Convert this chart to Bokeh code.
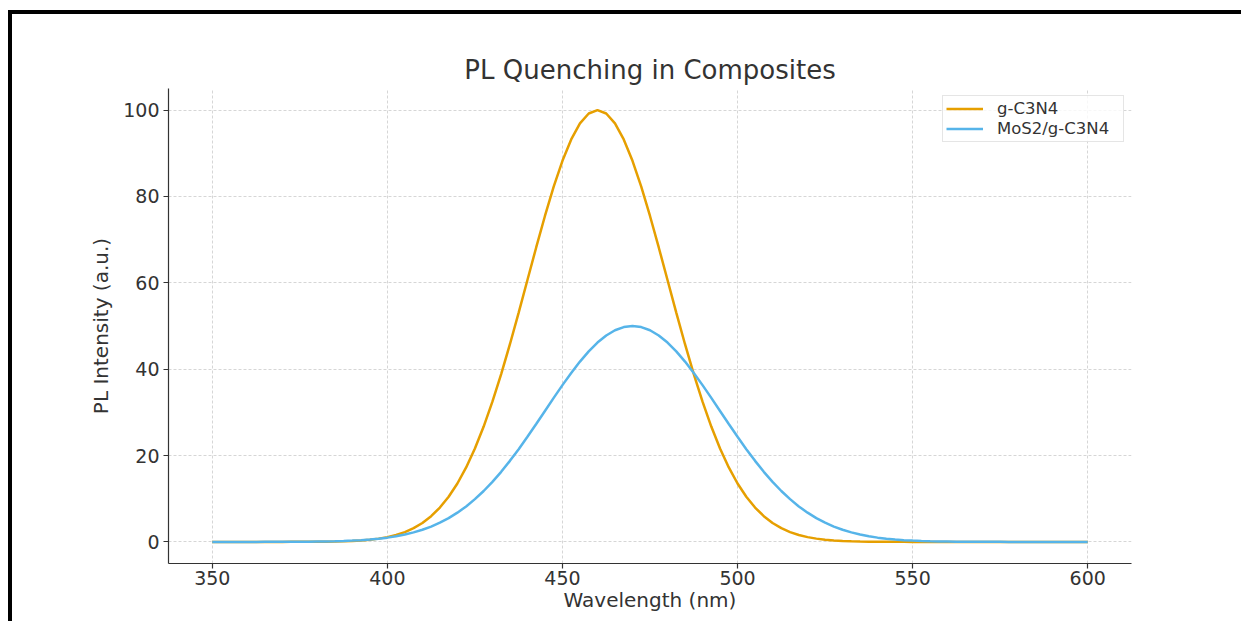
from bokeh.plotting import figure
from bokeh.models import Range1d, Legend, LegendItem, FixedTicker, ColumnDataSource
from bokeh.embed import file_html
from bokeh.resources import INLINE

# Wavelength grid (nm), 2.5 nm sampling
wavelength = [350, 352.5, 355, 357.5, 360, 362.5, 365, 367.5, 370, 372.5,
              375, 377.5, 380, 382.5, 385, 387.5, 390, 392.5, 395, 397.5,
              400, 402.5, 405, 407.5, 410, 412.5, 415, 417.5, 420, 422.5,
              425, 427.5, 430, 432.5, 435, 437.5, 440, 442.5, 445, 447.5,
              450, 452.5, 455, 457.5, 460, 462.5, 465, 467.5, 470, 472.5,
              475, 477.5, 480, 482.5, 485, 487.5, 490, 492.5, 495, 497.5,
              500, 502.5, 505, 507.5, 510, 512.5, 515, 517.5, 520, 522.5,
              525, 527.5, 530, 532.5, 535, 537.5, 540, 542.5, 545, 547.5,
              550, 552.5, 555, 557.5, 560, 562.5, 565, 567.5, 570, 572.5,
              575, 577.5, 580, 582.5, 585, 587.5, 590, 592.5, 595, 597.5, 600]

# PL intensity (a.u.)
g_c3n4 = [0, 0, 0, 0, 0, 0, 0, 0, 0,
          0.01, 0.01, 0.02, 0.03, 0.05, 0.09, 0.14, 0.22, 0.34, 0.51,
          0.76, 1.11, 1.60, 2.28, 3.19, 4.39, 5.96, 7.96, 10.46, 13.53,
          17.24, 21.63, 26.71, 32.47, 38.86, 45.78, 53.11, 60.65, 68.19, 75.48,
          82.26, 88.25, 93.21, 96.92, 99.22, 100,
          99.22, 96.92, 93.21, 88.25, 82.26, 75.48, 68.19, 60.65, 53.11, 45.78,
          38.86, 32.47, 26.71, 21.63, 17.24, 13.53, 10.46, 7.96, 5.96, 4.39,
          3.19, 2.28, 1.60, 1.11, 0.76, 0.51, 0.34, 0.22, 0.14, 0.09,
          0.05, 0.03, 0.02, 0.01, 0.01,
          0, 0, 0, 0, 0, 0, 0, 0, 0, 0,
          0, 0, 0, 0, 0, 0, 0, 0, 0, 0, 0]

mos2_g_c3n4 = [0, 0, 0, 0, 0, 0,
               0.01, 0.01, 0.02, 0.02, 0.04, 0.05, 0.08, 0.11, 0.15, 0.22,
               0.30, 0.41, 0.56, 0.75, 0.99, 1.31, 1.70, 2.20, 2.81, 3.55,
               4.45, 5.51, 6.77, 8.22, 9.90, 11.79, 13.90, 16.23, 18.77, 21.48,
               24.34, 27.30, 30.33, 33.35, 36.31, 39.13, 41.76, 44.12, 46.16, 47.80,
               49.01, 49.75, 50,
               49.75, 49.01, 47.80, 46.16, 44.12, 41.76, 39.13, 36.31, 33.35, 30.33,
               27.30, 24.34, 21.48, 18.77, 16.23, 13.90, 11.79, 9.90, 8.22, 6.77,
               5.51, 4.45, 3.55, 2.81, 2.20, 1.70, 1.31, 0.99, 0.75, 0.56,
               0.41, 0.30, 0.22, 0.15, 0.11, 0.08, 0.05, 0.04, 0.02, 0.02,
               0.01, 0.01,
               0, 0, 0, 0, 0, 0, 0, 0, 0, 0]

series_labels = ["g-C3N4", "MoS2/g-C3N4"]
x_ticks = [350, 400, 450, 500, 550, 600]
y_ticks = [0, 20, 40, 60, 80, 100]

FONT = "DejaVu Sans"
TXT = "#333333"

src = ColumnDataSource(dict(x=wavelength, g=g_c3n4, m=mos2_g_c3n4))

p = figure(width=1233, height=611,
           x_range=Range1d(337.5, 612.5), y_range=Range1d(-5, 105),
           output_backend="svg", toolbar_location=None,
           title="PL Quenching in Composites",
           min_border_left=156, min_border_right=114,
           min_border_top=74, min_border_bottom=62)

p.styles = {"margin-left": "8px", "margin-top": "10px",
            "border-top": "4px solid black", "border-left": "4px solid black"}

p.title.text_font = FONT
p.title.text_font_size = "26px"
p.title.text_font_style = "normal"
p.title.text_color = TXT
p.title.align = "center"
p.title.standoff = 8

p.outline_line_color = None
p.background_fill_color = "white"
p.border_fill_color = "white"

r1 = p.line("x", "g", source=src, line_color="#E69F00", line_width=2.5)
r2 = p.line("x", "m", source=src, line_color="#56B4E9", line_width=2.5)

p.xaxis.ticker = FixedTicker(ticks=x_ticks)
p.yaxis.ticker = FixedTicker(ticks=y_ticks)
p.xaxis.axis_label = "Wavelength (nm)"
p.yaxis.axis_label = "PL Intensity (a.u.)"

for ax in (p.xaxis[0], p.yaxis[0]):
    ax.axis_line_color = TXT
    ax.axis_line_width = 1.2
    ax.major_tick_line_color = TXT
    ax.major_tick_line_width = 1.2
    ax.major_tick_out = 5
    ax.major_tick_in = 0
    ax.minor_tick_line_color = None
    ax.major_label_text_font = FONT
    ax.major_label_text_font_size = "19px"
    ax.major_label_text_color = TXT
    ax.axis_label_text_font = FONT
    ax.axis_label_text_font_size = "20px"
    ax.axis_label_text_font_style = "normal"
    ax.axis_label_text_color = TXT

p.xaxis.major_label_standoff = 2
p.yaxis.major_label_standoff = 4
p.xaxis.axis_label_standoff = 0
p.yaxis.axis_label_standoff = 7

for g in (p.xgrid[0], p.ygrid[0]):
    g.grid_line_color = "#cccccc"
    g.grid_line_width = 0.8
    g.grid_line_dash = "3 2"

legend = Legend(items=[LegendItem(label=series_labels[0], renderers=[r1]),
                       LegendItem(label=series_labels[1], renderers=[r2])],
                location="top_right")
legend.margin = 7
legend.padding = 3
legend.spacing = 1
legend.glyph_width = 37
legend.glyph_height = 17
legend.label_height = 17
legend.label_width = 123
legend.label_standoff = 14
legend.label_text_font = FONT
legend.label_text_font_size = "16.5px"
legend.label_text_color = TXT
legend.border_line_color = "#cccccc"
legend.border_line_width = 1
legend.background_fill_alpha = 0.8
p.add_layout(legend)

open("out.html", "w").write(file_html(p, INLINE))
